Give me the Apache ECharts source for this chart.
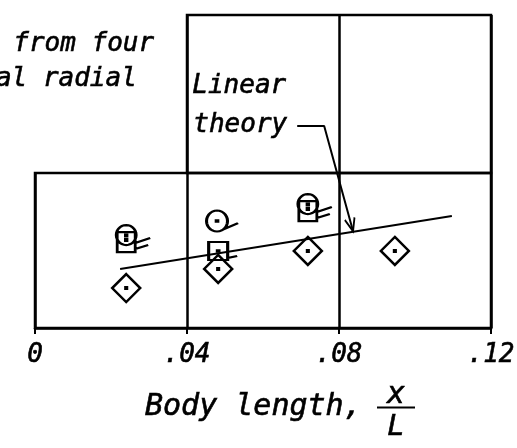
<!DOCTYPE html>
<html>
<head>
<meta charset="utf-8">
<script src="https://cdn.jsdelivr.net/npm/echarts@6/dist/echarts.min.js"></script>
<style>
  html, body { margin: 0; padding: 0; background: #fff; }
  #chart { width: 517px; height: 448px; }
</style>
</head>
<body>
<div id="chart"></div>
<script>
  // body station x/L and the (unlabelled) ordinate of each symbol
  const diamondX = [0.024, 0.0482, 0.0718, 0.0947]
  const diamondY = [0.258, 0.381, 0.497, 0.497]
  const circleX = [0.0479]
  const circleY = [0.690]
  const squareX = [0.0482]
  const squareY = [0.497]
  const comboX = [0.0240, 0.0718]
  const comboY = [0.574, 0.774]

  // linear theory line
  const theoryX = [0.0224, 0.1097]
  const theoryY = [0.381, 0.723]

  // leader from the "Linear theory" note to the line
  const leaderX = [0.0690, 0.0761, 0.0837]
  const leaderY = [1.303, 1.303, 0.624]

  const xTickValues = [0, 0.04, 0.08, 0.12]
  const xTickLabels = ['0', '.04', '.08', '.12']

  const FONT = 'DejaVu Sans Mono'
  const INK = '#000'
  const LABEL_FONT = 'italic 26px "DejaVu Sans Mono"'

  const pts = (xs, ys) => xs.map((x, i) => [x, ys[i]])
  const f = n => n.toFixed(2)
  const dot = (cx, cy) =>
    'M' + f(cx - 0.8) + ',' + f(cy - 0.8) + 'L' + f(cx + 0.8) + ',' + f(cy - 0.8) +
    'L' + f(cx + 0.8) + ',' + f(cy + 0.8) + 'L' + f(cx - 0.8) + ',' + f(cy + 0.8) + 'Z'
  const ring = (cx, cy, r) => {
    let d = ''
    for (let i = 0; i < 28; i++) {
      const a = i / 28 * Math.PI * 2
      d += (i ? 'L' : 'M') + f(cx + r * Math.cos(a)) + ',' + f(cy + r * Math.sin(a))
    }
    return d + 'Z'
  }

  // hand drawn style symbols (open shapes with a centre dot, some flagged)
  // sizes below equal each path's bounding box so nothing gets stretched
  const diamondSym = 'path://M0,-14L14,0L0,14L-14,0Z' + dot(0, 0)
  const circleSym = 'path://' + ring(0, 0, 10.5) + 'M7,8L21,2' + dot(0, 0)
  const squareSym = 'path://M-9.5,-9L9.5,-9L9.5,9L-9.5,9Z M9.5,7L19,5' + dot(0, 0)
  const comboSym = 'path://M-9,-7L9,-7L9,13L-9,13Z' + ring(0, -4, 10) + 'M9,4L24,-1 M9,10L22,6' +
    dot(0, -3.5) + dot(0, 1)
  const arrowSym = 'path://M-5,-13L0,0L5,-13'

  const openStyle = { color: 'rgba(0,0,0,0)', borderColor: INK, borderWidth: 2.5, opacity: 1 }

  const chart = echarts.init(document.getElementById('chart'), null, { renderer: 'canvas' })

  const leaderData = pts(leaderX, leaderY).map((p, i) =>
    i === leaderX.length - 1
      ? { value: p, symbol: arrowSym, symbolSize: [10, 13], symbolRotate: 15, symbolOffset: [-1.7, -6.3] }
      : { value: p, symbol: 'none' })

  const txt = (size) => ({
    color: INK, fontFamily: FONT, fontStyle: 'italic', fontSize: size,
    textBorderColor: INK, textBorderWidth: 0.6
  })

  const option = {
    backgroundColor: '#fff',
    animation: false,
    grid: [
      { left: 35, right: 26, top: 173, bottom: 120, show: true, borderColor: INK, borderWidth: 2.5,
        containLabel: false, outerBoundsMode: 'none' },
      { left: 187, right: 26, top: 15, bottom: 275, show: true, borderColor: INK, borderWidth: 2.5,
        containLabel: false, outerBoundsMode: 'none' }
    ],
    xAxis: [
      {
        type: 'value', gridIndex: 0, min: 0, max: 0.12, interval: 0.04,
        axisLine: { show: true, lineStyle: { color: INK, width: 2.5 } },
        axisTick: { show: true, length: 6, lineStyle: { color: INK, width: 2 } },
        splitLine: { show: true, lineStyle: { color: INK, width: 2.5 } },
        axisLabel: Object.assign({
          margin: 14, showMinLabel: true, showMaxLabel: true,
          formatter: v => xTickLabels[xTickValues.findIndex(t => Math.abs(t - v) < 1e-6)]
        }, txt(26)),
        name: '{s|}{f|x}\n{t|Body length,}{bar|}\n{s|}{f2|L}',
        nameLocation: 'middle',
        nameGap: 57,
        nameTextStyle: {
          padding: [0, 0, 0, 34],
          rich: {
            s: { width: 232, height: 20, lineHeight: 20 },
            f: Object.assign({ width: 38, align: 'center', lineHeight: 20 }, txt(30)),
            t: Object.assign({ width: 232, align: 'left', lineHeight: 5 }, txt(30)),
            bar: { width: 38, height: 2, lineHeight: 5, backgroundColor: INK },
            f2: Object.assign({ width: 38, align: 'center', lineHeight: 34 }, txt(29))
          }
        }
      },
      {
        type: 'value', gridIndex: 1, min: 0.04, max: 0.12, interval: 0.04,
        axisLine: { show: false }, axisTick: { show: false }, axisLabel: { show: false },
        splitLine: { show: true, lineStyle: { color: INK, width: 2.5 } }
      }
    ],
    yAxis: [
      { type: 'value', gridIndex: 0, min: 0, max: 1,
        axisLine: { show: false }, axisTick: { show: false }, axisLabel: { show: false }, splitLine: { show: false } },
      { type: 'value', gridIndex: 1, min: 1, max: 2,
        axisLine: { show: false }, axisTick: { show: false }, axisLabel: { show: false }, splitLine: { show: false } }
    ],
    graphic: [
      { type: 'text', left: 13, top: 31, style: { text: 'from four', fill: INK, stroke: INK, lineWidth: 0.6, font: LABEL_FONT } },
      { type: 'text', left: -20, top: 66, style: { text: 'ual radial', fill: INK, stroke: INK, lineWidth: 0.6, font: LABEL_FONT } },
      { type: 'text', left: 192, top: 73, style: { text: 'Linear', fill: INK, stroke: INK, lineWidth: 0.6, font: LABEL_FONT } },
      { type: 'text', left: 193, top: 112, style: { text: 'theory', fill: INK, stroke: INK, lineWidth: 0.6, font: LABEL_FONT } }
    ],
    series: [
      {
        name: 'Linear theory', type: 'line', xAxisIndex: 0, yAxisIndex: 0,
        data: pts(theoryX, theoryY), symbol: 'none',
        lineStyle: { color: INK, width: 2 }
      },
      {
        name: 'leader', type: 'line', xAxisIndex: 0, yAxisIndex: 0, clip: false,
        data: leaderData, showSymbol: true,
        itemStyle: { color: 'rgba(0,0,0,0)', borderColor: INK, borderWidth: 2, opacity: 1 },
        lineStyle: { color: INK, width: 2 }
      },
      {
        name: 'diamond', type: 'scatter', xAxisIndex: 0, yAxisIndex: 0,
        data: pts(diamondX, diamondY), symbol: diamondSym, symbolSize: 28,
        itemStyle: openStyle
      },
      {
        name: 'circle', type: 'scatter', xAxisIndex: 0, yAxisIndex: 0,
        data: pts(circleX, circleY), symbol: circleSym, symbolSize: [31.5, 21], symbolOffset: [5.25, 0],
        itemStyle: openStyle
      },
      {
        name: 'square', type: 'scatter', xAxisIndex: 0, yAxisIndex: 0,
        data: pts(squareX, squareY), symbol: squareSym, symbolSize: [28.5, 18], symbolOffset: [4.75, 0],
        itemStyle: openStyle
      },
      {
        name: 'circle and square', type: 'scatter', xAxisIndex: 0, yAxisIndex: 0,
        data: pts(comboX, comboY), symbol: comboSym, symbolSize: [34, 27], symbolOffset: [7, -0.5],
        itemStyle: openStyle
      }
    ]
  }

  chart.setOption(option)
</script>
</body>
</html>
